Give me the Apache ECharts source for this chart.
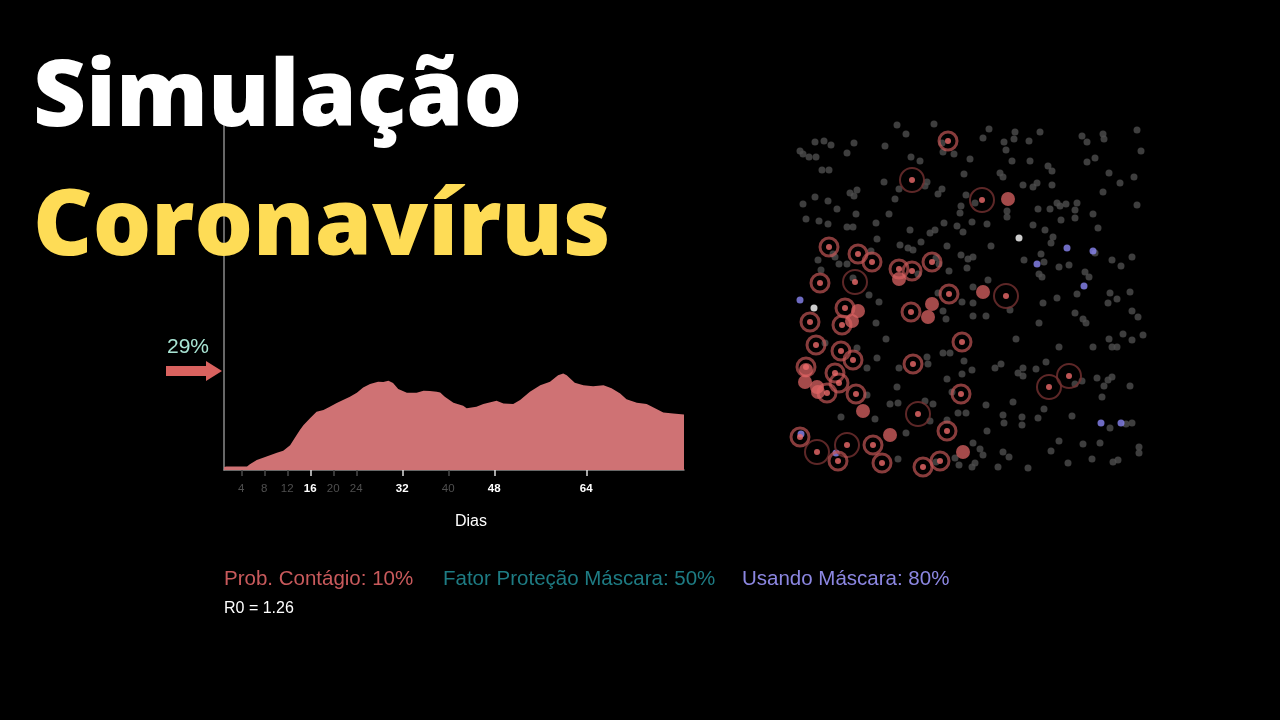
<!DOCTYPE html>
<html>
<head>
<meta charset="utf-8">
<script src="https://cdn.jsdelivr.net/npm/echarts@6/dist/echarts.min.js"></script>
<style>html,body{margin:0;padding:0;background:#000;}#c{width:1280px;height:720px;}</style>
</head>
<body>
<div id="c"></div>
<script>
// ---- Infection curve (% infected by day) ----
const days = [1, 1.4, 5, 5.5, 6.7, 8.4, 10.2, 11.3, 11.9, 12.5, 13.3, 14.2, 14.8, 16, 17.1, 18.3, 19.4, 20.6, 21.7, 22.9, 24.1, 25.2, 26.4, 27.8, 28.7, 29.6, 30.4, 31.3, 32.8, 34.5, 35.7, 36.8, 38, 38.6, 39.4, 40.9, 42.6, 43.2, 44.9, 46.1, 48.4, 49.6, 51.3, 52.5, 54.2, 56, 57.7, 59.1, 60, 60.6, 62, 63.5, 65.2, 67, 68.4, 69.9, 71, 72.8, 74.5, 76.3, 77.4, 79.1, 81];
const pct = [0.9, 1.0, 1.0, 1.7, 2.9, 3.9, 5.0, 5.6, 6.4, 7.2, 9.3, 11.6, 13.0, 15.1, 16.9, 17.4, 18.3, 19.4, 20.3, 21.2, 22.4, 23.9, 24.9, 25.6, 25.5, 25.9, 25.2, 23.5, 22.4, 22.4, 23.0, 22.9, 22.7, 22.5, 21.2, 19.5, 18.6, 17.9, 18.3, 19.1, 20.1, 19.3, 19.1, 20.3, 22.7, 24.6, 25.6, 27.5, 28.0, 27.5, 25.3, 24.6, 24.3, 24.6, 23.7, 22.2, 20.5, 19.5, 19.1, 17.6, 16.7, 16.4, 16.1];
const dimTicks = [4, 8, 12, 20, 24, 40];
const brightTicks = [16, 32, 48, 64];
const peakValue = 29;
const peakLabel = '29%';

// ---- Simulation box (positions in box units, 0..350) ----
const gray = [[102,3],[139,2],[20,20],[29,19],[36,23],[59,21],[111,12],[5,29],[8,32],[14,35],[21,35],[52,31],[90,24],[147,21],[148,30],[159,32],[116,35],[125,39],[27,48],[34,48],[169,52],[89,60],[132,60],[130,64],[104,67],[55,71],[59,74],[62,68],[147,67],[143,72],[171,73],[20,75],[33,79],[100,77],[8,82],[42,87],[166,84],[61,92],[94,92],[165,91],[11,97],[24,99],[33,102],[81,101],[52,105],[58,105],[149,101],[162,104],[168,110],[115,108],[135,111],[140,108],[82,117],[105,123],[113,126],[118,128],[126,120],[152,124],[166,133],[76,129],[38,132],[40,135],[23,138],[44,142],[52,142],[26,148],[141,136],[144,142],[154,149],[58,156],[123,152],[172,146],[74,173],[143,171],
[194,7],[220,10],[245,10],[188,16],[209,20],[219,17],[234,19],[287,14],[292,20],[308,12],[309,17],[342,8],[346,29],[211,28],[175,37],[217,39],[235,39],[253,44],[257,49],[292,40],[300,36],[205,51],[208,55],[314,51],[339,55],[228,63],[238,65],[242,61],[257,63],[325,61],[308,70],[180,81],[262,81],[265,84],[271,82],[282,81],[212,89],[212,95],[243,87],[255,87],[280,88],[298,92],[342,83],[177,100],[192,102],[238,103],[266,98],[280,96],[303,106],[250,108],[258,115],[256,121],[196,124],[173,137],[178,135],[229,138],[246,132],[249,140],[264,145],[274,143],[300,131],[317,138],[337,135],[326,144],[290,150],[294,155],[244,152],[247,155],[193,158],[178,165],[315,171],[335,170],[262,176],[282,172],
[84,180],[167,180],[148,189],[151,197],[81,201],[91,217],[30,221],[62,226],[82,236],[132,235],[133,242],[148,231],[155,231],[169,239],[72,246],[104,246],[167,252],[152,257],[102,265],[157,270],[72,273],[95,282],[103,281],[130,279],[138,282],[163,291],[171,291],[46,295],[80,297],[135,299],[152,298],[111,311],[103,337],[160,336],[164,343],[141,340],
[248,181],[178,181],[215,188],[313,181],[322,177],[337,189],[343,195],[280,191],[288,197],[291,201],[178,194],[191,194],[244,201],[328,212],[314,217],[337,218],[348,213],[221,217],[264,225],[298,225],[317,225],[322,225],[177,248],[200,246],[206,242],[228,246],[241,247],[251,240],[223,251],[228,254],[280,262],[287,259],[302,256],[313,258],[317,255],[309,264],[335,264],[307,275],[218,280],[191,283],[249,287],[208,293],[227,295],[243,296],[277,294],[209,301],[227,303],[315,306],[331,302],[337,301],[192,309],[264,319],[288,322],[305,321],[178,321],[344,325],[344,331],[185,327],[188,333],[208,330],[214,335],[256,329],[297,337],[318,340],[323,338],[273,341],[180,341],[177,345],[203,345],[233,346]];
const masked = [[5,178],[272,126],[298,129],[242,142],[289,164],[6,312],[41,331],[306,301],[326,301]];
const recovered = [[224,116],[19,186]];
const ringsBright = [[153,19],[34,125],[63,132],[77,140],[137,140],[104,147],[117,149],[25,161],[154,172],[15,200],[50,186],[47,203],[21,223],[46,229],[58,238],[11,245],[40,251],[44,261],[32,271],[61,272],[116,190],[167,220],[118,242],[166,272],[152,309],[5,315],[78,323],[43,339],[87,341],[128,345],[145,339]];
const ringsFaint = [[117,58],[60,160],[187,78],[211,174],[123,292],[22,330],[52,323],[254,265],[274,254]];
const infectedNew = [[213,77],[188,170],[63,189],[57,199],[137,182],[133,195],[11,248],[10,260],[22,265],[23,270],[68,289],[95,313],[168,330],[104,157]];

// ---- Texts ----
const title1 = 'Simulação';
const title2 = 'Coronavírus';
const xName = 'Dias';
const paramTexts = ['Prob. Contágio: 10%', 'Fator Proteção Máscara: 50%', 'Usando Máscara: 80%'];
const r0Text = 'R0 = 1.26';

const curve = days.map((d, i) => [d, pct[i]]);
const arrowPath = 'path://M0,5 L40,5 L40,0 L56,10 L40,20 L40,15 L0,15 Z';

const chart = echarts.init(document.getElementById('c'), null, {renderer: 'canvas'});
const hidden = {show: false};
const boxAxis = (inv) => ({type: 'value', min: 0, max: 350, inverse: inv, axisLine: hidden, axisTick: hidden, axisLabel: hidden, splitLine: hidden});
const sans = 'Liberation Sans';

chart.setOption({
  backgroundColor: '#000',
  animation: false,
  title: [
    {text: title1, left: 33, top: 50, padding: 0, textStyle: {color: '#ffffff', fontFamily: 'Open Sans', fontWeight: 800, fontSize: 92, lineHeight: 100}},
    {text: title2, left: 33, top: 179, padding: 0, textStyle: {color: '#fedc56', fontFamily: 'Open Sans', fontWeight: 800, fontSize: 92, lineHeight: 100}},
    {text: xName, left: 471, top: 514, padding: 0, textAlign: 'center', textStyle: {color: '#ffffff', fontFamily: sans, fontWeight: 'normal', fontSize: 16}},
    {text: paramTexts[0], left: 224, top: 569, padding: 0, textStyle: {color: '#c95a5c', fontFamily: sans, fontWeight: 'normal', fontSize: 20.5}},
    {text: paramTexts[1], left: 443, top: 569, padding: 0, textStyle: {color: '#1e7c84', fontFamily: sans, fontWeight: 'normal', fontSize: 20.5}},
    {text: paramTexts[2], left: 742, top: 569, padding: 0, textStyle: {color: '#8c87e2', fontFamily: sans, fontWeight: 'normal', fontSize: 20.5}},
    {text: r0Text, left: 224, top: 601, padding: 0, textStyle: {color: '#ffffff', fontFamily: sans, fontWeight: 'normal', fontSize: 16}}
  ],
  grid: [
    {left: 224, top: 125, width: 460, height: 345, containLabel: false},
    {left: 795, top: 122, width: 350, height: 350, containLabel: false}
  ],
  xAxis: [
    {gridIndex: 0, type: 'value', position: 'bottom', min: 1, max: 81,
     axisLine: {show: true, lineStyle: {color: '#8a8a8a', width: 1.5}},
     axisTick: {show: true, customValues: dimTicks, length: 6, lineStyle: {color: '#4a4a4a', width: 1.5}},
     axisLabel: {show: true, customValues: dimTicks, color: '#4f4f4f', fontSize: 11.5, fontFamily: sans, margin: 13},
     splitLine: hidden},
    {gridIndex: 0, type: 'value', position: 'bottom', min: 1, max: 81,
     axisLine: {show: false},
     axisTick: {show: true, customValues: brightTicks, length: 6, lineStyle: {color: '#dddddd', width: 1.5}},
     axisLabel: {show: true, customValues: brightTicks, color: '#ffffff', fontWeight: 'bold', fontSize: 11.5, fontFamily: sans, margin: 13},
     splitLine: hidden},
    Object.assign({gridIndex: 1}, boxAxis(false))
  ],
  yAxis: [
    {gridIndex: 0, type: 'value', min: 0, max: 100,
     axisLine: {show: true, lineStyle: {color: '#8a8a8a', width: 1.5}},
     axisTick: hidden, axisLabel: hidden, splitLine: hidden},
    Object.assign({gridIndex: 1}, boxAxis(true))
  ],
  series: [
    {type: 'line', xAxisIndex: 0, yAxisIndex: 0, data: curve, showSymbol: false, symbol: 'none',
     lineStyle: {width: 0}, areaStyle: {color: '#cf7274', opacity: 1}, z: 1,
     markPoint: {
       symbol: arrowPath, symbolSize: [56, 20], symbolOffset: [-30, 1], silent: true,
       itemStyle: {color: '#d9625f'},
       label: {show: true, formatter: peakLabel, position: 'top', distance: 3, offset: [-6, 0], color: '#a9e5d4', fontSize: 21, fontFamily: sans},
       data: [{coord: [1, peakValue]}]
     }},
    {type: 'scatter', xAxisIndex: 2, yAxisIndex: 1, data: gray, symbolSize: 7, itemStyle: {color: '#4e4e4e'}, z: 2},
    {type: 'scatter', xAxisIndex: 2, yAxisIndex: 1, data: masked, symbolSize: 7, itemStyle: {color: '#8a86f2'}, z: 3},
    {type: 'scatter', xAxisIndex: 2, yAxisIndex: 1, data: recovered, symbolSize: 7, itemStyle: {color: '#ffffff'}, z: 3},
    {type: 'scatter', xAxisIndex: 2, yAxisIndex: 1, data: ringsFaint, symbolSize: 24, itemStyle: {color: 'rgba(0,0,0,0)', borderColor: '#743131', borderWidth: 2}, z: 4},
    {type: 'scatter', xAxisIndex: 2, yAxisIndex: 1, data: ringsBright, symbolSize: 18, itemStyle: {color: 'rgba(0,0,0,0)', borderColor: 'rgba(200,88,88,0.85)', borderWidth: 3}, z: 5},
    {type: 'scatter', xAxisIndex: 2, yAxisIndex: 1, data: infectedNew, symbolSize: 14, itemStyle: {color: 'rgba(222,100,100,0.92)'}, z: 6},
    {type: 'scatter', xAxisIndex: 2, yAxisIndex: 1, data: ringsBright.concat(ringsFaint), symbolSize: 6, itemStyle: {color: '#ec6a6a'}, z: 7}
  ]
});
</script>
</body>
</html>
